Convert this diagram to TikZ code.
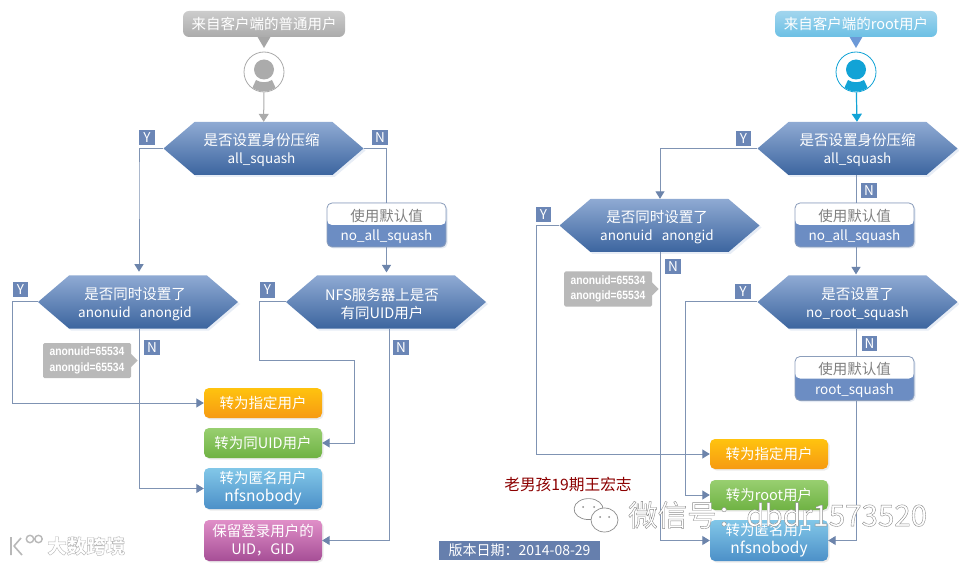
\documentclass[tikz,border=0pt]{standalone}
\usepackage{fontspec}
\setmainfont{Noto Sans CJK SC}
\newfontfamily\lat{Liberation Sans}
\usetikzlibrary{arrows.meta,shapes.symbols,shadows,calc}
\definecolor{hexT}{HTML}{8FAAD3}
\definecolor{hexB}{HTML}{3C659F}
\definecolor{lineC}{HTML}{7F93B3}
\definecolor{tipC}{HTML}{6C84AB}
\definecolor{tagC}{HTML}{6B86B6}
\definecolor{boxC}{HTML}{6C8DC3}
\definecolor{grayC}{HTML}{B9B9B9}
\definecolor{cyanC}{HTML}{12A3D6}
\definecolor{orgT}{HTML}{FFC30F}
\definecolor{orgB}{HTML}{F69A12}
\definecolor{grnT}{HTML}{98CF70}
\definecolor{grnB}{HTML}{6FB243}
\definecolor{bluT}{HTML}{82C7E8}
\definecolor{bluB}{HTML}{4C90C8}
\definecolor{purT}{HTML}{E08FC8}
\definecolor{purB}{HTML}{A64E96}
\newcommand{\lsz}{\fontsize{13.5}{19}\selectfont}
\newcommand{\hx}[3]{\rule{0pt}{15.5pt}#2\hspace*{#1pt}\\{\lsz #3}\hspace*{#1pt}}
\tikzset{
  hexnode/.style={shape=signal,signal to=west and east,signal pointer angle=81,inner sep=0pt,
    minimum width=200pt,minimum height=53pt,top color=hexT,bottom color=hexB,text=white,align=center,
    font=\fontsize{14.5}{18}\selectfont,
    drop shadow={shadow xshift=2pt,shadow yshift=-2pt,fill=hexT!35,opacity=.6}},
  tagnode/.style={fill=tagC,text=white,inner sep=0pt,minimum width=15.5pt,minimum height=15.5pt,font=\fontsize{13.5}{15}\selectfont},
  flow/.style={draw=lineC,line width=1pt},
  tip/.style={-{Triangle[length=7.5pt,width=9pt,color=tipC]},flow},
  endbox/.style={rounded corners=5pt,minimum width=118pt,inner sep=0pt,text=white,align=center,
    font=\fontsize{14.5}{18}\selectfont,
    drop shadow={shadow xshift=1.5pt,shadow yshift=-1.5pt,fill=black!25,opacity=.3}},
  splitbox/.style={draw=lineC!90,line width=.8pt,rounded corners=5pt,fill=boxC,minimum width=119pt,minimum height=44pt,
    inner sep=0pt,align=center,font=\fontsize{14.5}{19.5}\selectfont,
    path picture={\fill[white] (path picture bounding box.north west) rectangle (path picture bounding box.east);},
    drop shadow={shadow xshift=1.5pt,shadow yshift=-1.5pt,fill=hexT!40,opacity=.6}},
  note/.style={fill=grayC,rounded corners=1.5pt,minimum width=88pt,minimum height=35pt,inner sep=0pt,text=white,align=center,
    font=\lat\bfseries\fontsize{12}{15.5}\selectfont},
  bubble/.style={rounded corners=6pt,minimum width=162pt,minimum height=26pt,inner sep=0pt,text=white,font=\fontsize{14.5}{16}\selectfont},
  usercirc/.style={circle,minimum size=40pt,inner sep=0pt,fill=white},
  wmline/.style={draw=black!45,line width=.7pt}
}
\newcommand{\nt}[1]{\scalebox{.86}[1]{#1}}
\newcommand{\outl}[2]{\special{pdf:code 1 1 1 rg #1 #1 #1 RG 2 Tr 0.4 w}#2\special{pdf:code 0 Tr}}
\newcommand{\usericon}[3]{% name, position, colour
  \node[usercirc,draw=#3,line width=.8pt] (#1) at (#2) {};
  \begin{scope}
    \clip ($(#1.center)+(-19.5,0)$) arc[start angle=180,end angle=540,radius=19.5pt];
    \fill[#3] ($(#1.center)+(-14,21)$) -- ($(#1.center)+(-8,8)$) .. controls ($(#1.center)+(-3,11)$) and ($(#1.center)+(3,11)$) .. ($(#1.center)+(8,8)$) -- ($(#1.center)+(14,21)$) -- cycle;
  \end{scope}
  \fill[#3] ($(#1.center)+(0,-2.5)$) circle[radius=10pt];
}
\begin{document}
\begin{tikzpicture}[x=1pt,y=-1pt]
\useasboundingbox (0,0) rectangle (959,564);
\fill[white] (0,0) rectangle (959,564);

% ---- left tree
\path[fill=grayC!90!black] (257,36) -- (264,48) -- (271,36) -- cycle;
\node[bubble,top color=black!20,bottom color=black!33] (bl) at (264,24) {来自客户端的普通用户};
\usericon{ul}{264,72}{black!33}
\node[hexnode] (h1) at (263.5,148.5) {\hx{4}{是否设置身份压缩}{all\_squash}};
\node[hexnode] (h2) at (138,302) {\hx{6}{是否同时设置了}{anonuid\ \ \ anongid}};
\node[hexnode] (h3) at (386,302) {\hx{8}{NFS服务器上是否}{\fontsize{14.5}{19}\selectfont 有同UID用户}};
\node[splitbox] (d1) at (386.5,225) {\rule{0pt}{15pt}\textcolor{black!50}{使用默认值}\\\textcolor{white}{\lsz no\_all\_squash}};
\node[note] (n1) at (87,360.5) {\nt{anonuid=65534}\\\nt{anongid=65534}};
\fill[grayC] (131,354) -- (137.5,360.5) -- (131,367) -- cycle;
\node[endbox,minimum height=30pt,top color=orgT,bottom color=orgB] (e1) at (263,403) {转为指定用户};
\node[endbox,minimum height=30pt,top color=grnT,bottom color=grnB] (e2) at (263,443) {转为同UID用户};
\node[endbox,minimum height=41pt,top color=bluT,bottom color=bluB] (e3) at (263,488.5) {转为匿名用户\\{\fontsize{15.5}{18}\selectfont nfsnobody}};
\node[endbox,minimum height=41pt,top color=purT,bottom color=purB] (e4) at (263,540.5) {保留登录用户的\\UID，GID};
\node[tagnode] (y1) at (147,137.5) {Y};
\node[tagnode] (m1) at (380,137.5) {N};
\node[tagnode] (y2) at (20.5,289.5) {Y};
\node[tagnode] (m2) at (152,347.5) {N};
\node[tagnode] (y3) at (267.5,290) {Y};
\node[tagnode] (m3) at (401,347.5) {N};

\draw[-{Triangle[length=8pt,width=10pt]},draw=black!33,line width=1pt] (ul) -- (h1);
\draw[tip] (h1.west) -| ([xshift=-124.5pt]h1.south) -- ++(0,96.5);
\draw[flow] (h1.east) -| (d1.north);
\draw[tip] (d1.south) -- ++(0,25);
\draw[tip] (h2.west) -- ++(-25,0) |- (e1.west);
\draw[tip] ([xshift=1pt]h2.south) |- (e3.west);
\draw[tip] (h3.west) -- ++(-26,0) -- ++(0,58) -- ++(95,0) |- (e2.east);
\draw[tip] ([xshift=3pt]h3.south) |- (e4.east);

% ---- right tree
\fill[cyan!50!blue!60!white] (849,36) -- (856,48) -- (863,36) -- cycle;
\node[bubble,top color=bluT!75!white,bottom color=bluT!80!cyanC] (br) at (856,24) {来自客户端的root用户};
\usericon{ur}{856,72}{cyanC}
\node[hexnode] (r1) at (857.5,148.5) {\hx{0}{是否设置身份压缩}{all\_squash}};
\node[hexnode] (r2) at (659.5,225.5) {\hx{5}{是否同时设置了}{anonuid\ \ \ anongid}};
\node[hexnode] (r3) at (857.5,302) {\hx{0}{是否设置了}{no\_root\_squash}};
\node[splitbox] (d2) at (854.5,225) {\rule{0pt}{15pt}\textcolor{black!50}{使用默认值}\\\textcolor{white}{\lsz no\_all\_squash}};
\node[splitbox] (d3) at (854.5,378.5) {\rule{0pt}{15pt}\textcolor{black!50}{使用默认值}\\\textcolor{white}{\lsz root\_squash}};
\node[note] (n2) at (608,289) {\nt{anonuid=65534}\\\nt{anongid=65534}};
\fill[grayC] (652,282.5) -- (658.5,289) -- (652,295.5) -- cycle;
\node[endbox,minimum height=30pt,top color=orgT,bottom color=orgB] (f1) at (769,454) {转为指定用户};
\node[endbox,minimum height=30pt,top color=grnT,bottom color=grnB] (f2) at (769,495) {转为root用户};
\node[endbox,minimum height=41pt,top color=bluT,bottom color=bluB] (f3) at (769,540.5) {转为匿名用户\\{\fontsize{15.5}{18}\selectfont nfsnobody}};
\node[tagnode] (y4) at (743.5,138.5) {Y};
\node[tagnode] (m4) at (869,190.5) {N};
\node[tagnode] (y5) at (543.5,214.5) {Y};
\node[tagnode] (m5) at (673,266.5) {N};
\node[tagnode] (y6) at (743,291.5) {Y};
\node[tagnode] (m6) at (869.5,343.5) {N};

\draw[-{Triangle[length=8pt,width=10pt]},draw=cyanC,line width=1.2pt] (ur) -- (r1);
\draw[tip] (r1.west) -| ([xshift=.5pt]r2.north);
\draw[flow] ([xshift=-1.5pt]r1.south) -- ([xshift=1.5pt]d2.north);
\draw[tip] ([xshift=1.5pt]d2.south) -- ++(0,27);
\draw[tip] (r2.west) -- ++(-23,0) |- (f1.west);
\draw[tip] ([xshift=.5pt]r2.south) |- (f3.west);
\draw[tip] (r3.west) -- ++(-72,0) |- (f2.west);
\draw[flow] ([xshift=-1.5pt]r3.south) -- ([xshift=1.5pt]d3.north);
\draw[tip] ([xshift=1.5pt]d3.south) |- (f3.east);

% ---- free texts
\node[text=red!55!black,font=\fontsize{15.7}{17}\selectfont,inner sep=0pt] (sig) at (568,485) {老男孩19期王宏志};
\node[fill=tagC!95!black,text=white,minimum width=161pt,minimum height=19pt,inner sep=0pt,font=\fontsize{14}{16}\selectfont] (ver) at (519.5,550.5) {版本日期：2014-08-29};
\node[text=black!50,font=\fontsize{29.5}{31}\selectfont,inner sep=0pt,anchor=west] (wm) at (628,515) {\outl{0.55}{微信号：dbdr1573520}};
\node[text=black!28,font=\bfseries\fontsize{19.5}{21}\selectfont,inner sep=0pt,anchor=west] (wm2) at (47,546) {\outl{0.72}{大数跨境}};
% wechat icon
\draw[wmline] (603,510) arc[start angle=-5,end angle=355,x radius=14.5pt,y radius=10.5pt];
\draw[wmline,fill=white] (618,520) arc[start angle=0,end angle=360,x radius=13.5pt,y radius=12pt];
\fill[black!45] (583,507) circle[radius=1pt] (594,507) circle[radius=1pt] (600,517) circle[radius=1pt] (609,517) circle[radius=1pt];
% logo
\draw[black!28,line width=1.6pt,line join=round] (11,537) -- (11,555) (21,538) -- (14,546) -- (22,555);
\draw[black!28,line width=1.4pt] (30,539) circle[radius=3.7pt] (38.5,539) circle[radius=3.7pt];
\end{tikzpicture}
\end{document}
